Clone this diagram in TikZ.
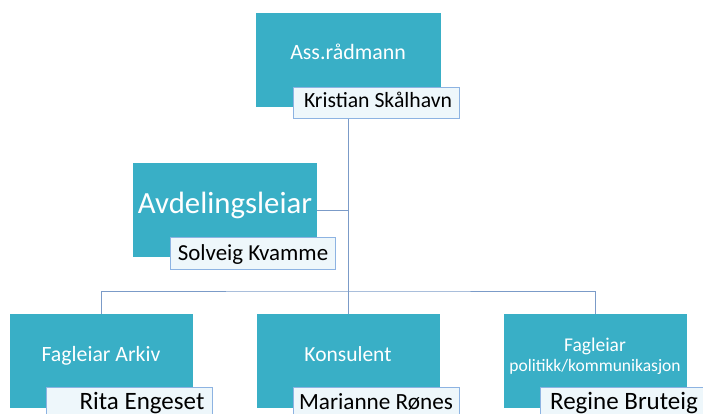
\documentclass[tikz,border=0pt]{standalone}
\usepackage{fontspec}
\setmainfont{Carlito}
\usetikzlibrary{backgrounds}
\definecolor{boxteal}{HTML}{39AFC6}
\definecolor{namefill}{HTML}{EEF7FB}
\definecolor{namedraw}{HTML}{8DB3E2}
\definecolor{connblue}{HTML}{7B9BC8}
\newcommand{\fs}[1]{\fontsize{#1}{#1}\selectfont}
\begin{document}
\begin{tikzpicture}[x=1pt,y=-1pt,
  role/.style={fill=boxteal, draw=none, inner sep=0pt, outer sep=0pt, anchor=north west, minimum height=94pt},
  namebox/.style={fill=namefill, draw=namedraw, line width=0.8pt, inner sep=0pt, outer sep=0pt, anchor=north west, minimum width=166pt},
  roletext/.style={text=white, inner sep=0pt, anchor=base},
  nametext/.style={text=black, inner sep=0pt, anchor=base},
  conn/.style={draw=connblue, line width=1pt}]
\useasboundingbox (0,0) rectangle (703,414);
\clip (0,0) rectangle (703,414);
% role boxes
\node[role, minimum width=185pt] (top) at (256,13) {};
\node[role, minimum width=184pt] (avd) at (133,163) {};
\node[role, minimum width=183pt] (arkiv) at (10,314) {};
\node[role, minimum width=183pt] (kons) at (257,314) {};
\node[role, minimum width=183pt] (pol) at (504,314) {};
% name boxes
\node[namebox, minimum height=31pt] (ntop) at (293,87) {};
\node[namebox, minimum width=165pt, minimum height=32pt] (navd) at (170,237) {};
\node[namebox, minimum height=40pt] (narkiv) at (46,387) {};
\node[namebox, minimum height=40pt] (nkons) at (293,387) {};
\node[namebox, minimum height=40pt] (npol) at (540,387) {};
% texts
\node[roletext, font=\fs{21.9}] (ttop) at (348,60) {Ass.rådmann};
\node[nametext, font=\fs{21.7}] (tntop) at (378,108) {Kristian Skålhavn};
\node[roletext, font=\fs{30.8}] (tavd) at (225,213) {Avdelingsleiar};
\node[nametext, font=\fs{22.9}] (tnavd) at (253,260) {Solveig Kvamme};
\node[roletext, font=\fs{21.8}] (tarkiv) at (101,361) {Fagleiar Arkiv};
\node[roletext, font=\fs{21.5}] (tkons) at (348,361) {Konsulent};
\node[roletext, font=\fs{19.5}] (tpol1) at (595,351) {Fagleiar};
\node[roletext, font=\fs{17.5}] (tpol2) at (595,371) {politikk/kommunikasjon};
\node[nametext, font=\fs{25}] (tnarkiv) at (142,409) {Rita Engeset};
\node[nametext, font=\fs{23.2}] (tnkons) at (376,409) {Marianne Rønes};
\node[nametext, font=\fs{25}] (tnpol) at (624,409) {Regine Bruteig};
% connectors
\coordinate (bar) at (348,291);
\begin{pgfonlayer}{background}
\draw[conn] (top.south) -- (top.south |- bar);
\draw[conn] (avd.east) -- (avd.east -| top.south);
\draw[conn] (arkiv.north) |- (bar) -| (pol.north);
\draw[conn] (top.south |- bar) -- (kons.north);
\end{pgfonlayer}
\end{tikzpicture}
\end{document}
